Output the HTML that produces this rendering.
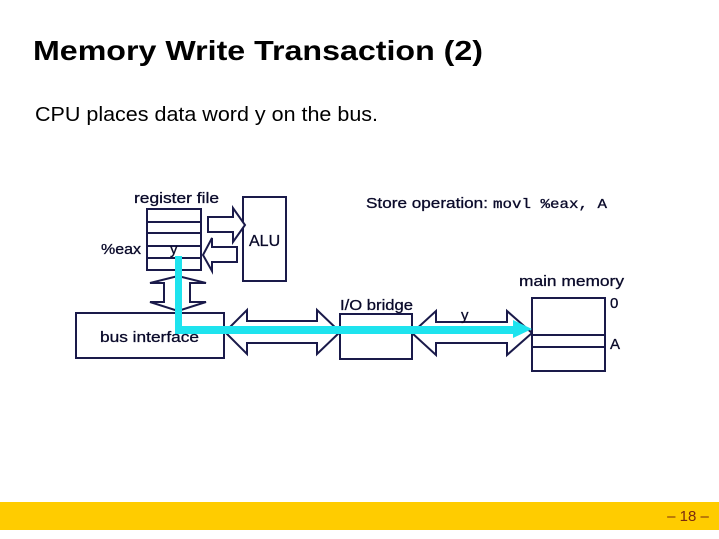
<!DOCTYPE html>
<html><head><meta charset="utf-8"><style>
html,body{margin:0;padding:0;background:#fff;}
svg{display:block;}
</style></head><body>
<svg width="719" height="539" viewBox="0 0 719 539" xmlns="http://www.w3.org/2000/svg">
<rect width="719" height="539" fill="#fff"/>
<text x="33" y="60" font-family="Liberation Sans, sans-serif" font-weight="bold" font-size="28" textLength="450" lengthAdjust="spacingAndGlyphs" fill="#000">Memory Write Transaction (2)</text>
<text x="35" y="121" font-family="Liberation Sans, sans-serif" font-size="20" textLength="343" lengthAdjust="spacingAndGlyphs" fill="#000">CPU places data word y on the bus.</text>

<g fill="#fff" stroke="#1a1a4a" stroke-width="2">
<rect x="147" y="209" width="54" height="61"/>
<line x1="147" y1="222" x2="201" y2="222"/>
<line x1="147" y1="233" x2="201" y2="233"/>
<line x1="147" y1="246" x2="201" y2="246"/>
<line x1="147" y1="258" x2="201" y2="258"/>
<rect x="243" y="197" width="43" height="84"/>
<polygon points="208,217 233,217 233,208 245,225 233,242 233,232 208,232"/>
<polygon points="237,247 212,247 212,238 203,255 212,271 212,262 237,262"/>
<polygon points="164,283 150,283 178,276 206,283 190,283 190,302 206,302 178,311 150,302 164,302"/>
<rect x="76" y="313" width="148" height="45"/>
<polygon points="225,332 247,310 247,321 317,321 317,310 340,332 317,354 317,343 247,343 247,354"/>
<rect x="340" y="314" width="72" height="45"/>
<polygon points="412,333 436,311 436,322 507,322 507,311 532,333 507,355 507,343 436,343 436,355"/>
<rect x="532" y="298" width="73" height="73"/>
<line x1="532" y1="335" x2="605" y2="335"/>
<line x1="532" y1="347" x2="605" y2="347"/>
</g>

<g fill="#1ee3ee" stroke="none">
<rect x="175" y="256" width="7" height="78"/>
<rect x="175" y="326" width="340" height="8"/>
<polygon points="513,320 532,329 513,338"/>
</g>

<g font-family="Liberation Sans, sans-serif" font-size="15" fill="#0a0a2a" stroke="#0a0a2a" stroke-width="0.3">
<text x="134" y="203" textLength="85" lengthAdjust="spacingAndGlyphs">register file</text>
<text x="101" y="254" textLength="40" lengthAdjust="spacingAndGlyphs">%eax</text>
<text x="170" y="254">y</text>
<text x="249" y="246" font-size="16">ALU</text>
<text x="100" y="342" textLength="99" lengthAdjust="spacingAndGlyphs">bus interface</text>
<text x="340" y="310" textLength="73" lengthAdjust="spacingAndGlyphs">I/O bridge</text>
<text x="461" y="320">y</text>
<text x="519" y="286" textLength="105" lengthAdjust="spacingAndGlyphs">main memory</text>
<text x="610" y="308">0</text>
<text x="610" y="349">A</text>
<text x="366" y="208" textLength="122" lengthAdjust="spacingAndGlyphs">Store operation:</text>
<text x="493" y="208" font-family="Liberation Mono, monospace" font-size="14" textLength="114" lengthAdjust="spacingAndGlyphs">movl %eax, A</text>
</g>

<rect x="0" y="502" width="719" height="28" fill="#ffcc00"/>
<text x="688" y="521" font-family="Liberation Sans, sans-serif" font-size="15" fill="#7a2a10" text-anchor="middle">– 18 –</text>
</svg>
</body></html>
